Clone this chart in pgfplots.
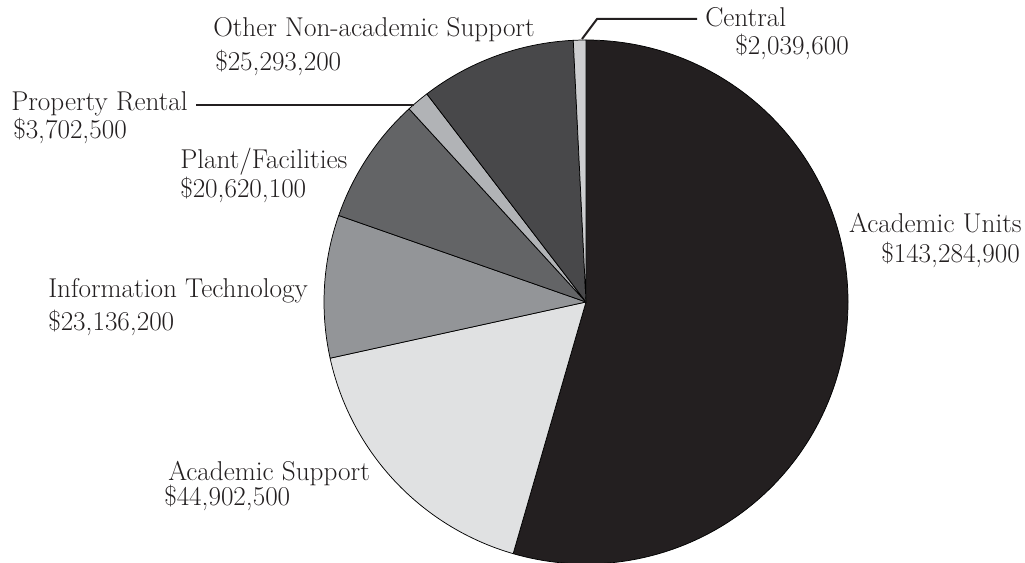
\documentclass[border=0pt]{standalone}
\usepackage{pgfplots}
\pgfplotsset{compat=1.18}
\usepackage{pgfplotstable}

\definecolor{cAU}{HTML}{231F20}
\definecolor{cAS}{HTML}{E0E1E2}
\definecolor{cIT}{HTML}{939598}
\definecolor{cPF}{HTML}{636466}
\definecolor{cPR}{HTML}{B1B3B6}
\definecolor{cON}{HTML}{48484A}
\definecolor{cCE}{HTML}{CDCED0}
\definecolor{txt}{HTML}{231F20}

% budget in millions of dollars, clockwise from 12 o'clock
\pgfplotstableread{
name value shade
AcademicUnits 143.2849 cAU
AcademicSupport 44.9025 cAS
InformationTechnology 23.1362 cIT
PlantFacilities 20.6201 cPF
PropertyRental 3.7025 cPR
OtherNonacademic 25.2932 cON
Central 2.0396 cCE
}\budget

\begin{document}
\begin{tikzpicture}
\pgfplotstablegetrowsof{\budget}
\pgfmathtruncatemacro\lastrow{\pgfplotsretval-1}
\xdef\total{0}
\foreach \i in {0,...,\lastrow}{
  \pgfplotstablegetelem{\i}{value}\of\budget
  \pgfmathparse{\total+\pgfplotsretval}\xdef\total{\pgfmathresult}
}
\begin{axis}[
  hide axis, scale only axis,
  width=768.75pt, height=421.5pt,
  xmin=0, xmax=1025, ymin=0, ymax=562,
  disabledatascaling, clip=false,
]
\pgfplotsextra{
  \xdef\startang{90}
  \foreach \i in {0,...,\lastrow}{
    \pgfplotstablegetelem{\i}{value}\of\budget \let\val\pgfplotsretval
    \pgfplotstablegetelem{\i}{shade}\of\budget \let\col\pgfplotsretval
    \pgfmathsetmacro\endang{\startang-\val/\total*360}
    \fill[fill=\col, draw=black, line width=0.55pt, line join=round]
      (586,260) -- ++(\startang:262) arc[start angle=\startang, end angle=\endang, radius=262] -- cycle;
    \xdef\startang{\endang}
  }
}
% leader lines
\draw[line width=1.5pt, txt] (196,457) -- (414,457);
\draw[line width=1.5pt, txt] (697,543) -- (597,543) -- (582,523);
% labels
\begin{scope}[every node/.style={inner sep=0pt, text=txt, font=\fontsize{20.4}{24}\selectfont}]
\node[anchor=base west] at (213,525) {Other Non-academic Support};
\node[anchor=base west] at (215,491) {\$25,293,200};
\node[anchor=base west] at (11,452) {Property Rental};
\node[anchor=base west] at (13,424) {\$3,702,500};
\node[anchor=base west] at (180,394) {Plant/Facilities};
\node[anchor=base west] at (180,365) {\$20,620,100};
\node[anchor=base west] at (705,535) {Central};
\node[anchor=base west] at (735,507) {\$2,039,600};
\node[anchor=base east] at (1022,330) {Academic Units};
\node[anchor=base east] at (1020,300) {\$143,284,900};
\node[anchor=base west] at (48,265) {Information Technology};
\node[anchor=base west] at (48,232) {\$23,136,200};
\node[anchor=base west] at (168,82) {Academic Support};
\node[anchor=base west] at (164,57) {\$44,902,500};
\end{scope}
\end{axis}
\pgfresetboundingbox
\useasboundingbox (0,0) rectangle (768.75pt,421.5pt);
\end{tikzpicture}
\end{document}
